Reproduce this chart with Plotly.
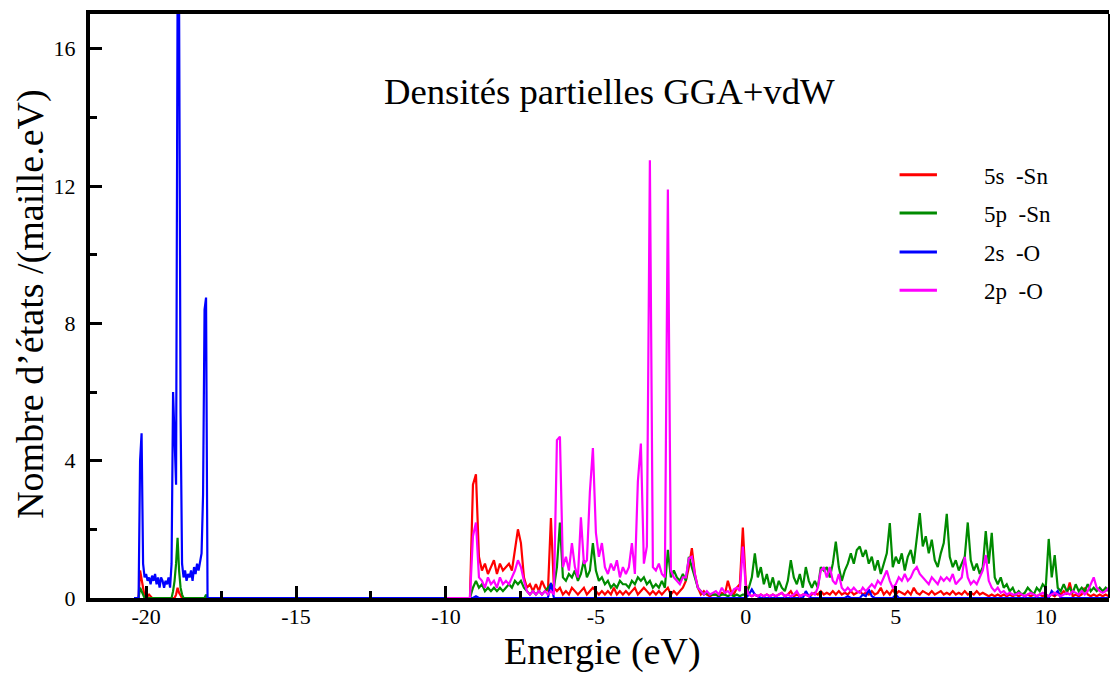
import numpy as np
import plotly.graph_objects as go

# ---- data -------------------------------------------------------------
# orbital labels and colours
names = ["5s\u00a0 -Sn", "5p\u00a0 -Sn", "2s\u00a0 -O", "2p\u00a0 -O"]
colors = ["#ff0000", "#008b00", "#0000ff", "#ff00ff"]

# energy samples (eV): deep O-2s band and valence/conduction band
energy_low = np.arange(-2040, -1775, 5) / 100.0      # -20.40 ... -17.80
energy_band = np.arange(-100, 123) / 10.0            # -10.0 ... 12.2

# partial DOS, deep band
red_low = [0, 0, 0, 0, 0.8, 0.5, 0.2, 0.05, 0.05, 0.05,
           0.1, 0.05, 0, 0, 0, 0, 0, 0, 0, 0,
           0, 0, 0, 0, 0, 0, 0, 0, 0.1, 0.3,
           0.15, 0.05, 0, 0, 0, 0, 0, 0, 0, 0,
           0, 0, 0, 0, 0, 0, 0, 0, 0, 0,
           0, 0, 0]
green_low = [0, 0, 0, 0, 0.3, 0.2, 0.05, 0, 0, 0,
             0, 0, 0, 0, 0, 0, 0, 0, 0, 0,
             0, 0, 0, 0, 0, 0, 0.2, 0.5, 1.0, 1.75,
             0.8, 0.3, 0.1, 0, 0, 0, 0, 0, 0, 0,
             0, 0, 0, 0, 0, 0, 0, 0, 0.1, 0,
             0, 0, 0]
blue_low = [0, 0, 0, 0, 4.0, 4.8, 1.0, 0.6, 0.7, 0.5,
            0.6, 0.4, 0.65, 0.5, 0.7, 0.4, 0.6, 0.3, 0.6, 0.5,
            0.3, 0.5, 0.4, 0.6, 0.3, 1.0, 6.0, 4.5, 3.3, 17.5,
            17.5, 5.4, 1.0, 0.6, 0.8, 0.5, 0.7, 0.6, 0.8, 0.5,
            0.9, 0.7, 1.0, 0.8, 1.1, 1.3, 3.0, 8.4, 8.75, 0,
            0, 0, 0]

# partial DOS, valence + conduction band (rows of 1 eV)
red_band = [
    0, 0, 0, 0, 0, 0, 0, 0, 0, 3.3,                     # -10.0 .. -9.1
    3.6, 1.2, 0.8, 1.0, 0.7, 0.9, 1.1, 0.7, 1.0, 0.8,   # -9.0 .. -8.1
    0.9, 1.0, 0.8, 1.4, 2.0, 1.6, 0.6, 0.3, 0.4, 0.2,   # -8.0 .. -7.1
    0.4, 0.2, 0.5, 0.3, 0.2, 2.33, 0.3, 0.2, 0.3, 0.1,  # -7.0 .. -6.1
    0.2, 0.1, 0.3, 0.2, 0.1, 0.2, 0.3, 0.1, 0.2, 0.3,   # -6.0 .. -5.1
    0.2, 0.1, 0.2, 0.1, 0.2, 0.1, 0.3, 0.1, 0.2, 0.1,   # -5.0 .. -4.1
    0.2, 0.1, 0.2, 0.3, 0.1, 0.2, 0.3, 0.2, 0.1, 0.2,   # -4.0 .. -3.1
    0.1, 0.2, 0.1, 0.2, 0.3, 0.1, 0.2, 0.1, 0.2, 0.3,   # -3.0 .. -2.1
    0.5, 0.9, 1.45, 0.7, 0.3, 0.1, 0.2, 0.1, 0.05, 0.1,  # -2.0 .. -1.1
    0.1, 0.05, 0.15, 0.1, 0.5, 0.2, 0.1, 0.3, 0.4, 2.05,  # -1.0 .. -0.1
    0.4, 0.1, 0.05, 0.1, 0.05, 0.1, 0.05, 0.1, 0.05, 0.1,  # 0.0 .. 0.9
    0.05, 0.1, 0.15, 0.05, 0.1, 0.2, 0.05, 0.1, 0.05, 0.1,  # 1
    0.1, 0.05, 0.1, 0.15, 0.1, 0.2, 0.1, 0.15, 0.1, 0.2,  # 2
    0.1, 0.2, 0.1, 0.15, 0.1, 0.2, 0.1, 0.15, 0.2, 0.1,   # 3
    0.15, 0.1, 0.2, 0.1, 0.15, 0.3, 0.1, 0.2, 0.1, 0.25,  # 4
    0.1, 0.2, 0.15, 0.1, 0.2, 0.1, 0.3, 0.15, 0.1, 0.2,   # 5
    0.15, 0.1, 0.2, 0.1, 0.15, 0.2, 0.1, 0.15, 0.1, 0.2,  # 6
    0.1, 0.15, 0.1, 0.2, 0.1, 0.15, 0.1, 0.2, 0.1, 0.15,  # 7
    0.1, 0.05, 0.1, 0.05, 0.1, 0.05, 0.1, 0.05, 0.1, 0.05,  # 8
    0.1, 0.05, 0.1, 0.05, 0.1, 0.05, 0.1, 0.05, 0.1, 0.05,  # 9
    0.1, 0.05, 0.1, 0.05, 0.15, 0.1, 0.2, 0.1, 0.45, 0.05,  # 10
    0.1, 0.05, 0.1, 0.3, 0.1, 0.05, 0.1, 0.05, 0.1, 0.05,  # 11
    0.1, 0.05, 0.1,                                       # 12.0 .. 12.2
]
green_band = [
    0, 0, 0, 0, 0, 0, 0, 0, 0, 0.3,
    0.5, 0.3, 0.4, 0.2, 0.3, 0.2, 0.3, 0.2, 0.3, 0.2,
    0.3, 0.4, 0.3, 0.5, 0.4, 0.5, 0.3, 0.2, 0.1, 0.2,
    0.1, 0.2, 0.1, 0.2, 0.3, 0.4, 0.3, 0.9, 2.2, 0.6,
    0.5, 0.7, 0.6, 0.8, 0.5, 0.7, 1.1, 0.6, 0.8, 1.6,
    0.8, 0.5, 0.6, 0.4, 0.5, 0.3, 0.4, 0.3, 0.5, 0.4,
    0.4, 0.3, 0.5, 0.4, 0.6, 0.5, 0.6, 0.4, 0.5, 0.3,
    0.4, 0.3, 0.5, 0.3, 1.4, 0.6, 0.8, 0.6, 0.5, 0.7,
    0.5, 1.2, 0.9, 0.6, 0.3, 0.2, 0.1, 0.15, 0.1, 0.1,
    0.1, 0.05, 0.1, 0.1, 0.05, 0.1, 0.05, 0.1, 0.05, 0.1,
    0.1, 0.3, 0.6, 1.3, 0.6, 0.9, 0.4, 0.7, 0.3, 0.6,
    0.2, 0.5, 0.3, 0.2, 0.5, 1.1, 0.6, 0.4, 0.7, 0.3,
    0.9, 0.5, 0.3, 0.5, 0.3, 0.9, 0.8, 0.9, 0.6, 1.0,
    1.64, 0.9, 0.5, 0.8, 1.0, 1.3, 1.0, 1.4, 1.5, 1.2,
    1.4, 1.0, 1.2, 0.8, 1.1, 0.7, 1.0, 1.3, 2.18, 0.9,
    1.2, 1.0, 1.3, 0.8, 1.2, 1.4, 1.0, 1.8, 2.47, 1.5,
    1.8, 1.3, 1.7, 1.1, 0.9, 1.3, 1.6, 2.45, 1.2, 0.9,
    1.1, 0.8, 1.0, 1.2, 2.2, 1.1, 0.8, 1.0, 0.7, 0.9,
    1.95, 1.0, 1.9, 0.6, 0.4, 0.6, 0.3, 0.4, 0.2, 0.3,
    0.1, 0.2, 0.1, 0.15, 0.3, 0.2, 0.1, 0.3, 0.2, 0.4,
    0.3, 1.72, 0.6, 1.25, 0.3, 0.2, 0.4, 0.2, 0.3, 0.15,
    0.4, 0.2, 0.3, 0.2, 0.4, 0.2, 0.3, 0.2, 0.3, 0.2,
    0.3, 0.2, 0.3,
]
blue_band = [
    0, 0, 0, 0, 0, 0, 0, 0, 0, 0,
    0.05, 0, 0, 0, 0, 0, 0, 0, 0, 0,
    0, 0, 0, 0, 0, 0, 0, 0, 0, 0,
    0, 0, 0, 0, 0, 0.44, 0, 0, 0, 0,
    0, 0, 0, 0, 0, 0, 0, 0, 0, 0,
    0, 0, 0, 0, 0, 0, 0, 0, 0, 0,
    0, 0, 0, 0, 0, 0, 0, 0, 0, 0,
    0, 0, 0, 0, 0, 0, 0, 0, 0, 0,
    0, 0, 0, 0, 0, 0, 0, 0, 0, 0,
    0, 0, 0, 0, 0, 0, 0, 0, 0, 0,
    0, 0.1, 0.25, 0.1, 0.05, 0, 0, 0, 0, 0,
    0, 0, 0, 0, 0, 0, 0, 0, 0, 0,
    0.2, 0.05, 0, 0, 0, 0, 0, 0, 0, 0,
    0, 0, 0, 0, 0.05, 0, 0, 0, 0, 0.1,
    0.05, 0.25, 0.05, 0, 0, 0, 0, 0, 0, 0,
    0.1, 0, 0, 0, 0, 0, 0, 0, 0, 0,
    0, 0, 0, 0, 0, 0, 0, 0, 0, 0,
    0, 0, 0, 0, 0, 0, 0, 0, 0, 0,
    0, 0, 0, 0, 0, 0, 0, 0, 0, 0,
    0, 0, 0, 0, 0, 0, 0, 0, 0, 0,
    0, 0, 0.2, 0.1, 0.2, 0, 0, 0, 0, 0,
    0, 0, 0, 0, 0, 0, 0, 0, 0, 0,
    0, 0, 0,
]
magenta_band = [
    0, 0, 0, 0, 0, 0, 0, 0, 0, 1.8,
    2.2, 0.6, 0.5, 0.3, 0.6, 0.4, 0.5, 0.3, 0.6, 0.4,
    0.5, 0.4, 0.6, 0.8, 1.1, 0.9, 0.5, 0.2, 0.1, 0.2,
    0.1, 0.2, 0.1, 0.2, 0.1, 0.2, 0.1, 4.6, 4.7, 0.9,
    1.2, 0.8, 1.6, 0.9, 0.6, 2.35, 1.0, 1.1, 3.1, 4.37,
    1.9, 1.2, 1.6, 0.9, 0.7, 1.0, 0.8, 1.1, 0.6, 0.9,
    0.7, 0.9, 1.6, 0.7, 3.4, 4.5, 1.0, 1.5, 12.75, 0.9,
    0.8, 1.0, 0.7, 0.6, 11.9, 0.8, 0.6, 0.5, 0.4, 0.6,
    0.6, 1.15, 1.2, 0.7, 0.3, 0.2, 0.1, 0.2, 0.1, 0.15,
    0.2, 0.1, 0.3, 0.15, 0.2, 0.1, 0.25, 0.3, 0.2, 1.5,
    0.3, 0.1, 0.05, 0.1, 0.05, 0.1, 0.05, 0.1, 0.05, 0.1,
    0.05, 0.1, 0.15, 0.05, 0.1, 0.05, 0.1, 0.2, 0.05, 0.1,
    0.1, 0.05, 0.15, 0.1, 0.3, 0.8, 0.9, 0.6, 0.9, 0.5,
    0.4, 0.7, 0.3, 0.2, 0.3, 0.2, 0.3, 0.2, 0.15, 0.3,
    0.2, 0.3, 0.4, 0.3, 0.5, 0.4, 0.6, 0.8, 0.5, 0.3,
    0.4, 0.6, 0.5, 0.7, 0.5, 0.6, 0.8, 0.9, 0.7, 0.6,
    0.5, 0.4, 0.6, 0.5, 0.4, 0.6, 0.5, 0.6, 0.5, 0.7,
    0.4, 0.5, 0.6, 1.2, 0.6, 0.4, 0.5, 0.4, 0.6, 0.8,
    1.25, 0.5, 0.3, 0.2, 0.3, 0.15, 0.2, 0.1, 0.15, 0.1,
    0.1, 0.15, 0.1, 0.05, 0.1, 0.15, 0.1, 0.05, 0.1, 0.15,
    0.1, 0.05, 0.1, 0.15, 0.1, 0.05, 0.1, 0.15, 0.1, 0.2,
    0.15, 0.1, 0.2, 0.1, 0.2, 0.4, 0.6, 0.3, 0.2, 0.15,
    0.2, 0.3, 0.2,
]

# axis ticks
x_major = [-20, -15, -10, -5, 0, 5, 10]
x_labels = ["-20", "-15", "-10", "-5", "0", "5", "10"]
x_minor = [-17.5, -12.5, -7.5, -2.5, 2.5, 7.5]
y_major = [0, 4, 8, 12, 16]
y_labels = ["0", "4", "8", "12", "16"]
y_minor = [2, 6, 10, 14]

title_text = "Densités partielles GGA+vdW"
x_title = "Energie (eV)"
y_title = "Nombre d\u2019états /(maille.eV)"

# ---- figure -----------------------------------------------------------
W, H = 1111, 673
PL, PR, PT, PB = 89.5, 1108.8, 13.7, 597.7   # plot-area edges in pixels


def px(x):
    return (x - PL) / (PR - PL)


def py(y):
    return (PB - y) / (PB - PT)


series = [
    (np.concatenate([energy_low, energy_band]), red_low + red_band),
    (np.concatenate([energy_low, energy_band]), green_low + green_band),
    (np.concatenate([energy_low, energy_band]), blue_low + blue_band),
    (energy_band, magenta_band),
]

fig = go.Figure()
for (xs, ys), name, col in zip(series, names, colors):
    fig.add_trace(go.Scatter(
        x=xs, y=ys, mode="lines", name=name,
        line=dict(color=col, width=2.2), showlegend=False,
    ))

serif = "Liberation Serif, Times New Roman, serif"

fig.update_layout(
    width=W, height=H,
    margin=dict(l=PL, r=W - PR, t=PT, b=H - PB, pad=0),
    paper_bgcolor="white", plot_bgcolor="white",
    font=dict(family=serif, color="black"),
    showlegend=False,
)
fig.update_xaxes(
    range=[-21.87, 12.11], showgrid=False, zeroline=False,
    showline=True, linewidth=4, linecolor="black", mirror=True,
    ticks="inside", ticklen=12, tickwidth=2.5, tickcolor="black",
    tickvals=x_major, ticktext=x_labels, tickfont=dict(size=22, family=serif),
    ticklabelstandoff=-4,
    minor=dict(tickvals=x_minor, ticks="inside", ticklen=7, tickwidth=2.5,
               tickcolor="black", showgrid=False),
)
fig.update_yaxes(
    range=[0, 17.01], showgrid=False, zeroline=False,
    showline=True, linewidth=4, linecolor="black", mirror=False,
    ticks="inside", ticklen=12, tickwidth=2.5, tickcolor="black",
    tickvals=y_major, ticktext=y_labels, tickfont=dict(size=22, family=serif),
    ticklabelstandoff=6,
    minor=dict(tickvals=y_minor, ticks="inside", ticklen=7, tickwidth=2.5,
               tickcolor="black", showgrid=False),
)

# thin right-hand frame edge
fig.add_shape(type="line", xref="paper", yref="paper", x0=1, x1=1, y0=0, y1=1,
              line=dict(color="black", width=2))

annotations = [
    dict(text=title_text, x=px(609), y=py(91), font=dict(size=36.7)),
    dict(text=x_title, x=px(602), y=py(651), font=dict(size=38)),
    dict(text=y_title, x=px(30), y=py(304), font=dict(size=38), textangle=-90),
]

# legend drawn as line samples + labels
legend_y = [174.5, 212.7, 251.7, 290.0]
for name, col, ly in zip(names, colors, legend_y):
    fig.add_shape(type="line", xref="paper", yref="paper",
                  x0=px(899.3), x1=px(936.7), y0=py(ly), y1=py(ly),
                  line=dict(color=col, width=3))
    annotations.append(dict(text=name, x=px(981.7), y=py(ly + 1.5),
                            xanchor="left", font=dict(size=23)))

for a in annotations:
    a.setdefault("xanchor", "center")
    fig.add_annotation(xref="paper", yref="paper", yanchor="middle",
                       showarrow=False,
                       **{k: v for k, v in a.items() if k != "font"},
                       font=dict(size=a["font"]["size"], family=serif, color="black"))

fig.write_html("out.html")
